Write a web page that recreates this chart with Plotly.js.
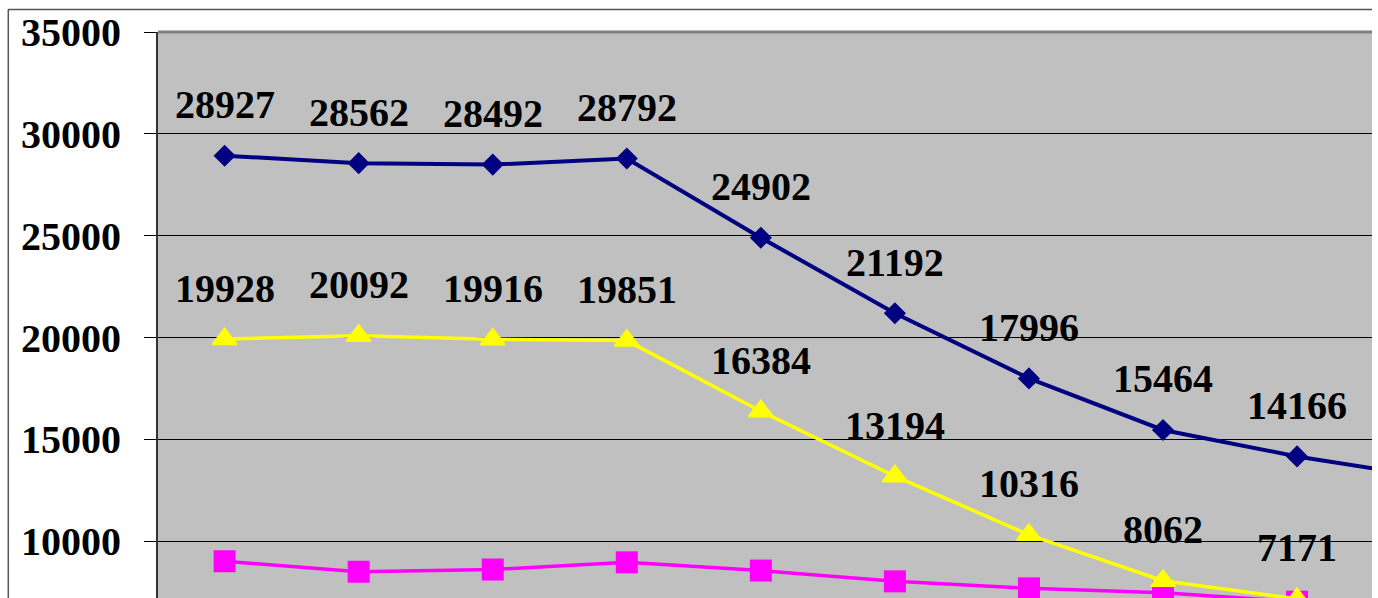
<!DOCTYPE html>
<html><head><meta charset="utf-8">
<script src="https://cdn.plot.ly/plotly-3.0.1.min.js"></script>
<style>html,body{margin:0;padding:0;overflow:hidden;background:#fff}</style>
</head><body><div id="chart"></div>
<script>
// Data (categories 1..10; the 10th point lies outside the visible area)
const categories = [1, 2, 3, 4, 5, 6, 7, 8, 9, 10];
const seriesBlue = [28927, 28562, 28492, 28792, 24902, 21192, 17996, 15464, 14166, 13130];
const seriesYellow = [19928, 20092, 19916, 19851, 16384, 13194, 10316, 8062, 7171, 6500];
const seriesPink = [9020, 8505, 8613, 8967, 8563, 8033, 7690, 7475, 7034, 6900];
const labelsBlue = ['28927', '28562', '28492', '28792', '24902', '21192', '17996', '15464', '14166'];
const labelsYellow = ['19928', '20092', '19916', '19851', '16384', '13194', '10316', '8062', '7171'];
const yTicks = [10000, 15000, 20000, 25000, 30000, 35000];

const FONT = {family: 'Liberation Serif, Times New Roman, serif', size: 40, color: '#000', weight: 'bold'};

const W = 1378, H = 800;
const M = {l: 158, r: 6, t: 32, b: 55};
const plotW = W - M.l - M.r, plotH = H - M.t - M.b;

const traces = [
  {x: categories, y: seriesBlue, mode: 'lines+markers', cliponaxis: true,
   line: {color: '#000080', width: 4},
   marker: {symbol: 'diamond', size: 17, color: '#000080'}},
  {x: categories, y: seriesPink, mode: 'lines+markers', cliponaxis: true,
   line: {color: '#FF00FF', width: 3.5},
   marker: {symbol: 'square', size: 22, color: '#FF00FF'}},
  {x: categories, y: seriesYellow, mode: 'lines+markers', cliponaxis: true,
   line: {color: '#FFFF00', width: 3.5},
   marker: {symbol: 'triangle-up', size: 21, color: '#FFFF00', line: {color: '#FFFF00', width: 2}}}
];

const annotations = [];
labelsBlue.forEach((t, i) => annotations.push({x: categories[i], y: seriesBlue[i], text: t, showarrow: false, yshift: 51, font: FONT, xanchor: 'center', yanchor: 'middle'}));
labelsYellow.forEach((t, i) => annotations.push({x: categories[i], y: seriesYellow[i], text: t, showarrow: false, yshift: 51, font: FONT, xanchor: 'center', yanchor: 'middle'}));

const px2x = p => (p - M.l) / plotW;
const py2y = p => 1 - (p - M.t) / plotH;

const layout = {
  width: W, height: H, margin: M,
  paper_bgcolor: '#fff', plot_bgcolor: '#C0C0C0',
  showlegend: false,
  xaxis: {range: [0.503, 9.559], showgrid: false, zeroline: false, showticklabels: false, ticks: '', showline: false},
  yaxis: {range: [0, 35000], tickvals: yTicks, ticktext: yTicks.map(String),
          showgrid: true, gridcolor: '#000', gridwidth: 1, zeroline: false,
          ticks: 'outside', ticklen: 12, tickcolor: '#000', tickwidth: 1,
          showline: true, linecolor: '#333', linewidth: 2,
          tickfont: FONT, ticklabelstandoff: 15},
  annotations: annotations,
  shapes: [
    {type: 'line', xref: 'paper', yref: 'paper', x0: 0, x1: 1, y0: 1, y1: 1, line: {color: '#808080', width: 3}, layer: 'above'},
    {type: 'line', xref: 'paper', yref: 'paper', x0: px2x(8), x1: px2x(1372), y0: py2y(9.5), y1: py2y(9.5), line: {color: '#555', width: 1.5}},
    {type: 'line', xref: 'paper', yref: 'paper', x0: px2x(8.3), x1: px2x(8.3), y0: py2y(9.5), y1: py2y(H), line: {color: '#555', width: 1.5}}
  ]
};

Plotly.newPlot('chart', traces, layout, {displayModeBar: false, staticPlot: true});
</script>
</body></html>
